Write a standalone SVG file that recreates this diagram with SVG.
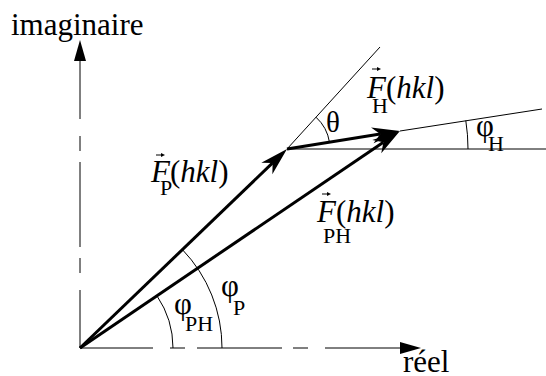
<svg xmlns="http://www.w3.org/2000/svg" width="546" height="376" viewBox="0 0 546 376">
<style>
  text { font-family: 'Liberation Serif', 'Times New Roman', Times, serif; fill: #000; }
  .big { font-size: 31px; }
  .sub { font-size: 22px; }
  .it { font-style: italic; }
  .thin { fill: none; stroke: #000; stroke-width: 1; }
  .vec { fill: none; stroke: #000; stroke-width: 3; }
  .acc { fill: none; stroke: #000; stroke-width: 1; }
</style>
<defs>
  <marker id="barb" markerUnits="userSpaceOnUse" viewBox="-10 -10 32 20" markerWidth="32" markerHeight="20" refX="0" refY="0" orient="auto">
    <path d="M20,0 L-8,-8 L0,0 L-8,8 Z" fill="#000"/>
  </marker>
  <marker id="axisHead" markerUnits="userSpaceOnUse" viewBox="-2 -8 26 16" markerWidth="26" markerHeight="16" refX="0" refY="0" orient="auto">
    <path d="M0,-6 L21,0 L0,6 Z" fill="#000"/>
  </marker>
  <marker id="accHead" markerUnits="userSpaceOnUse" viewBox="-1 -3 6 6" markerWidth="6" markerHeight="6" refX="0" refY="0" orient="auto">
    <path d="M0,-2 L4,0 L0,2 Z" fill="#000"/>
  </marker>
</defs>

<g id="axes">
  <line id="axis-imag" class="thin" x1="80" y1="348" x2="80" y2="61" stroke-dasharray="58 17 15 11 85 11 15 17 200" marker-end="url(#axisHead)"/>
  <line id="axis-real" class="thin" x1="80" y1="348" x2="400" y2="348" stroke-dasharray="73 17 15 12 85 11 15 17 200" marker-end="url(#axisHead)"/>
</g>

<g id="construction">
  <line class="thin" x1="287" y1="149" x2="546" y2="149"/>
  <line class="thin" x1="287" y1="149" x2="380" y2="47"/>
  <line class="thin" x1="400" y1="131" x2="542" y2="109"/>
</g>

<g id="angles">
  <path id="arc-theta" class="thin" d="M316,117.2 A43,43 0 0 1 329.5,142.3"/>
  <path id="arc-phiH" class="thin" d="M465.8,120.6 A181,181 0 0 1 468,149"/>
  <path id="arc-phiPH" class="thin" d="M157,295.9 A93,93 0 0 1 173,348"/>
  <path id="arc-phiP" class="thin" d="M182.4,249.6 A142,142 0 0 1 222,348"/>
</g>

<g id="connectors">
  <line id="vec-FP" class="vec" x1="80" y1="348" x2="272.6" y2="162.9" marker-end="url(#barb)"/>
  <line id="vec-FH" class="vec" x1="287" y1="149" x2="380.2" y2="134.1" marker-end="url(#barb)"/>
  <line id="vec-FPH" class="vec" x1="80" y1="348" x2="383.4" y2="142.2" marker-end="url(#barb)"/>
</g>

<g id="label-imaginaire"><text class="big" x="11" y="35">imaginaire</text></g>
<g id="label-reel"><text class="big" x="403" y="372">réel</text></g>

<g id="label-FP">
  <line class="acc" x1="156" y1="155" x2="161" y2="155" marker-end="url(#accHead)"/>
  <text class="big" x="151" y="182"><tspan class="it">F</tspan>(<tspan class="it">hkl</tspan>)</text>
  <text class="sub" x="160" y="195">P</text>
</g>
<g id="label-FH">
  <line class="acc" x1="372" y1="69" x2="377" y2="69" marker-end="url(#accHead)"/>
  <text class="big" x="367" y="98"><tspan class="it">F</tspan>(<tspan class="it">hkl</tspan>)</text>
  <text class="sub" x="372" y="113">H</text>
</g>
<g id="label-FPH">
  <line class="acc" x1="322" y1="194" x2="327" y2="194" marker-end="url(#accHead)"/>
  <text class="big" x="317" y="222"><tspan class="it">F</tspan>(<tspan class="it">hkl</tspan>)</text>
  <text class="sub" x="323" y="243">PH</text>
</g>

<g id="label-theta"><text class="big" x="326" y="132" style="font-size:29px">θ</text></g>
<g id="label-phiH">
  <text class="big" x="476" y="136">φ</text>
  <text class="sub" x="488" y="151">H</text>
</g>
<g id="label-phiPH">
  <text class="big" x="174" y="314">φ</text>
  <text class="sub" x="185" y="331">PH</text>
</g>
<g id="label-phiP">
  <text class="big" x="221" y="296">φ</text>
  <text class="sub" x="233" y="315">P</text>
</g>
</svg>
